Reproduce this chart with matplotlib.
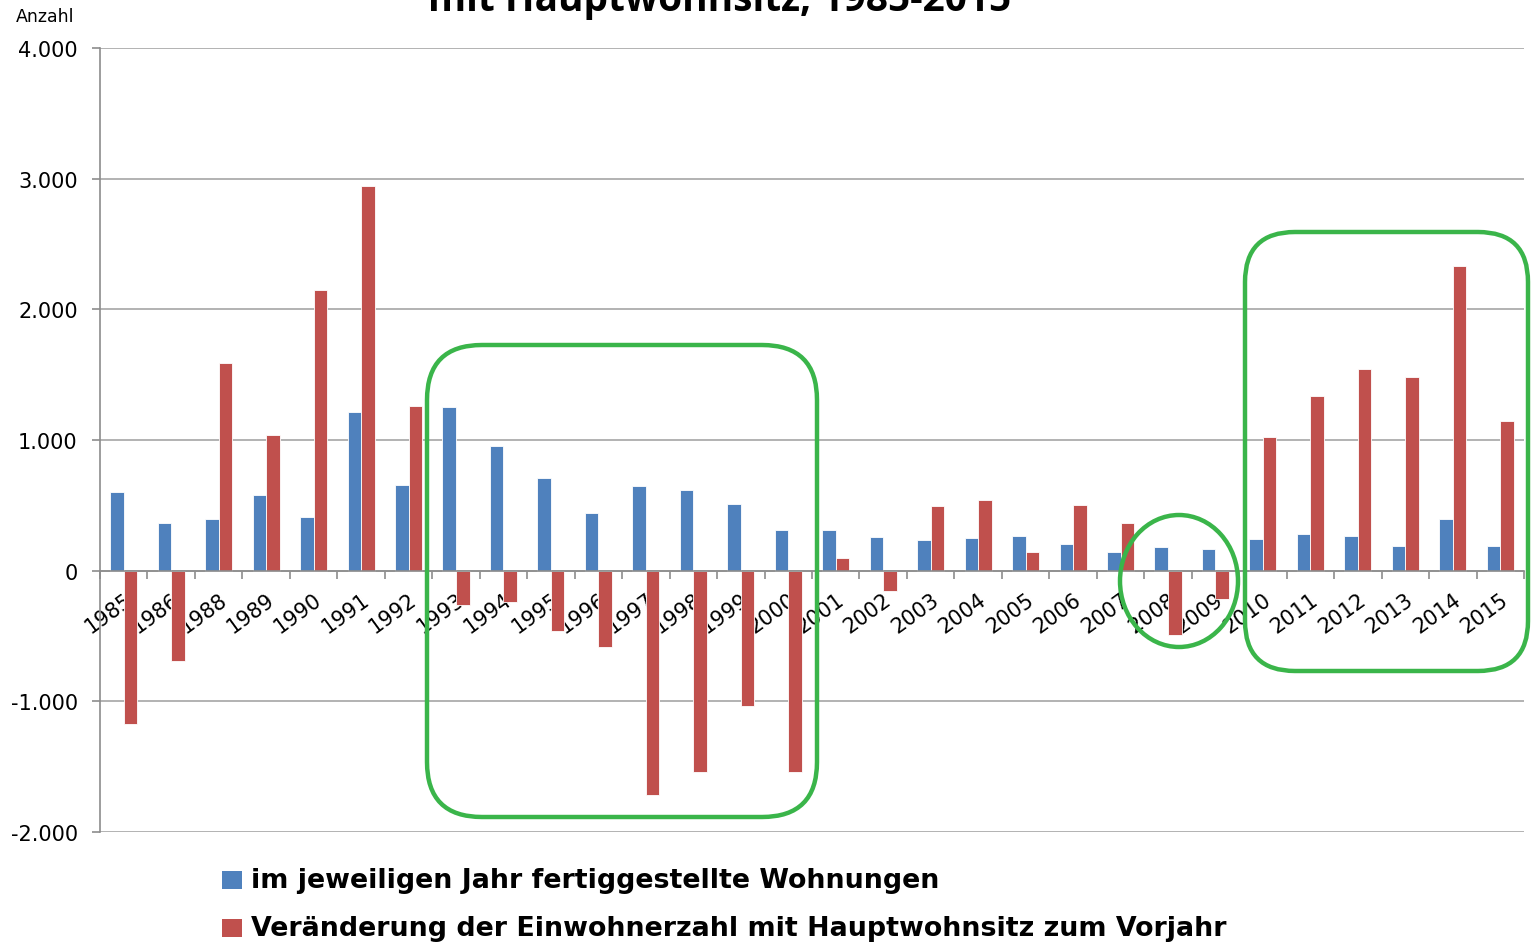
import matplotlib
matplotlib.use("Agg")
import matplotlib.pyplot as plt
from matplotlib.patches import FancyBboxPatch, Ellipse, Rectangle
from matplotlib.transforms import IdentityTransform
from matplotlib.ticker import FuncFormatter, MultipleLocator
import numpy as np

years = ["1985", "1986", "1988", "1989", "1990", "1991", "1992", "1993", "1994", "1995",
         "1996", "1997", "1998", "1999", "2000", "2001", "2002", "2003", "2004", "2005",
         "2006", "2007", "2008", "2009", "2010", "2011", "2012", "2013", "2014", "2015"]
wohnungen = [605, 367, 398, 581, 413, 1216, 658, 1255, 956, 712,
             444, 650, 620, 513, 314, 314, 260, 237, 252, 268,
             207, 145, 184, 168, 245, 283, 268, 191, 398, 191]
einwohner = [-1171, -689, 1591, 1041, 2150, 2946, 1262, -260, -237, -459,
             -581, -1714, -1538, -1033, -1538, 99, -153, 497, 543, 145,
             505, 367, -490, -214, 1025, 1339, 1546, 1484, 2334, 1148]
series_labels = ["im jeweiligen Jahr fertiggestellte Wohnungen",
                 "Veränderung der Einwohnerzahl mit Hauptwohnsitz zum Vorjahr"]
title_text = "mit Hauptwohnsitz, 1985-2015"

BLUE = "#4F81BD"
RED = "#C0504D"
GREEN = "#3AB54A"
W, H = 1537, 945

fig = plt.figure(figsize=(W / 100, H / 100), dpi=100)
ax = fig.add_axes([100 / W, 1 - 833 / H, (1524 - 100) / W, (833 - 49) / H])

x = np.arange(len(years))
bw = 0.285
ax.bar(x - bw / 2, wohnungen, bw, color=BLUE, edgecolor="white", linewidth=0.6, zorder=3)
ax.bar(x + bw / 2, einwohner, bw, color=RED, edgecolor="white", linewidth=0.6, zorder=3)

ax.set_xlim(-0.5, len(years) - 0.5)
ax.set_ylim(-2000, 4000)
ax.yaxis.set_major_locator(MultipleLocator(1000))
ax.yaxis.set_major_formatter(FuncFormatter(lambda v, p: f"{int(v):,}".replace(",", ".")))
ax.grid(axis="y", color="#A6A6A6", linewidth=1.2, zorder=0)

for s in ["top", "right"]:
    ax.spines[s].set_visible(False)
ax.spines["left"].set_color("#8C8C8C")
ax.spines["left"].set_linewidth(1.2)
ax.spines["bottom"].set_position(("data", 0))
ax.spines["bottom"].set_color("#8C8C8C")
ax.spines["bottom"].set_linewidth(1.2)
ax.spines["bottom"].set_zorder(4)

ax.set_xticks(np.arange(len(years) + 1) - 0.5, minor=False)
ax.set_xticklabels([])
ax.tick_params(axis="x", which="major", direction="out", length=6, color="#8C8C8C", width=1.2)
ax.set_xticks(x, minor=True)
ax.set_xticklabels(years, minor=True, rotation=36, ha="right", va="top",
                   rotation_mode="anchor", fontsize=15, family="DejaVu Sans")
ax.tick_params(axis="x", which="minor", length=0, pad=13)
ax.tick_params(axis="y", direction="out", length=6, color="#8C8C8C", width=1.2,
               labelsize=15, pad=10)

fig.text(16 / W, 1 - 17 / H, "Anzahl", fontsize=12.5, va="center", ha="left")
fig.text(720 / W, 1 - 11 / H, title_text, fontsize=28, fontweight="bold",
         ha="center", va="baseline", family="Open Sans")

# legend
for i, (lab, col) in enumerate(zip(series_labels, [BLUE, RED])):
    yc = 881 + i * 48
    fig.patches.append(Rectangle((222, H - yc - 9), 20, 18, transform=IdentityTransform(),
                                 facecolor=col, edgecolor="none", figure=fig))
    fig.text(251 / W, 1 - yc / H, lab, fontsize=19.4, fontweight="bold", va="center",
             ha="left", family="DejaVu Sans")

# green annotation shapes (pixel coords)
def rbox(x0, y0, x1, y1, r):
    p = FancyBboxPatch((x0 + r, H - y1 + r), (x1 - x0) - 2 * r, (y1 - y0) - 2 * r,
                       boxstyle=f"round,pad={r}", transform=IdentityTransform(),
                       facecolor="none", edgecolor=GREEN, linewidth=3.2, figure=fig, zorder=10)
    fig.patches.append(p)

rbox(427, 346, 817, 818, 55)
rbox(1245, 233, 1528, 672, 50)
fig.patches.append(Ellipse((1179, H - 582), 118, 132, transform=IdentityTransform(),
                           facecolor="none", edgecolor=GREEN, linewidth=3.2, figure=fig, zorder=10))

fig.savefig("out.png", dpi=100)
